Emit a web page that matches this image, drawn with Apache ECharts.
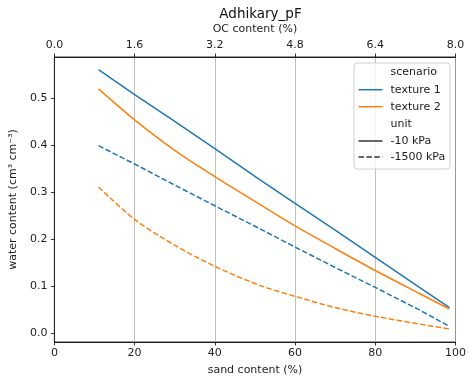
<!DOCTYPE html>
<html>
<head>
<meta charset="utf-8">
<script src="https://cdn.jsdelivr.net/npm/echarts@6/dist/echarts.min.js"></script>
<style>html,body{margin:0;padding:0;background:#fff}#c{width:469px;height:385px}</style>
</head>
<body>
<div id="c"></div>
<script>
const sand = [11, 20, 30, 40, 51, 60, 70, 80, 91, 98.5];
const tex1_10 = [0.561, 0.508, 0.451, 0.393, 0.328, 0.276, 0.219, 0.161, 0.097, 0.054];
const tex2_10 = [0.520, 0.454, 0.389, 0.333, 0.275, 0.228, 0.180, 0.133, 0.084, 0.051];
const tex1_1500 = [0.399, 0.360, 0.315, 0.271, 0.223, 0.183, 0.1395, 0.097, 0.049, 0.014];
const tex2_1500 = [0.311, 0.242, 0.187, 0.142, 0.102, 0.078, 0.054, 0.0355, 0.019, 0.0085];
const yTicks = [0.0, 0.1, 0.2, 0.3, 0.4, 0.5];

const BLUE = '#1f77b4', ORANGE = '#ff7f0e';
const FONT = 'DejaVu Sans';
const FS = 11;
const pair = v => sand.map((s, i) => [s, v[i]]);
const mk = (name, v, color, dashed, smooth) => ({
  name, type: 'line', data: pair(v), showSymbol: false, smooth: smooth ? 0.3 : false,
  xAxisIndex: 0, yAxisIndex: 0,
  lineStyle: { color, width: 1.5, type: dashed ? [5.5, 2.4] : 'solid' },
  itemStyle: { color }, z: 3
});

const chart = echarts.init(document.getElementById('c'), null, { renderer: 'canvas' });
const txt = { fontFamily: FONT, fontSize: FS, color: '#222' };
const lg = { x: 354, y: 63, w: 96, h: 106 };
const rowY = [72.3, 89.7, 106.7, 124, 141, 157];
const graphics = [
  { type: 'rect', shape: { x: lg.x, y: lg.y, width: lg.w, height: lg.h, r: 3 },
    style: { fill: 'rgba(255,255,255,0.8)', stroke: '#d0d0d0', lineWidth: 1 }, z: 10 },
];
const rows = [
  { t: 'scenario' },
  { t: 'texture 1', c: BLUE },
  { t: 'texture 2', c: ORANGE },
  { t: 'unit' },
  { t: '-10 kPa', c: '#333333' },
  { t: '-1500 kPa', c: '#333333', d: true },
];
rows.forEach((r, i) => {
  if (r.c) graphics.push({ type: 'line', shape: { x1: 358.5, y1: rowY[i], x2: 382.5, y2: rowY[i] },
    style: { stroke: r.c, lineWidth: 1.5, lineDash: r.d ? [5.5, 2.4] : null }, z: 11 });
  graphics.push({ type: 'text', x: 390.5, y: rowY[i],
    style: { text: r.t, font: FS + 'px "DejaVu Sans"', fill: '#222', verticalAlign: 'middle', textAlign: 'left' }, z: 11 });
});

chart.setOption({
  animation: false,
  backgroundColor: '#fff',
  title: { text: 'Adhikary_pF', left: 255.5, textAlign: 'center', top: 2,
    textStyle: { fontFamily: FONT, fontSize: 13.5, fontWeight: 'normal', color: '#111' } },
  grid: { left: 54, right: 12, top: 57, bottom: 43, show: true, borderColor: '#000', borderWidth: 0.8, backgroundColor: 'transparent' },
  xAxis: [
    { type: 'value', position: 'bottom', min: 0, max: 100, interval: 20,
      name: 'sand content (%)', nameLocation: 'middle', nameGap: 23, nameTextStyle: txt,
      axisLine: { show: true, onZero: false, lineStyle: { color: '#000', width: 0.8 } },
      axisTick: { show: true, length: 3.5, inside: false, lineStyle: { color: '#000', width: 0.8 } },
      axisLabel: { ...txt, margin: 6 },
      splitLine: { show: true, lineStyle: { color: '#b0b0b0', width: 0.8 } } },
    { type: 'value', position: 'top', min: 0, max: 8, interval: 1.6,
      name: 'OC content (%)', nameLocation: 'middle', nameGap: 20, nameTextStyle: txt,
      axisLine: { show: true, onZero: false, lineStyle: { color: '#000', width: 0.8 } },
      axisTick: { show: true, length: 3.5, inside: false, lineStyle: { color: '#000', width: 0.8 } },
      axisLabel: { ...txt, margin: 6, formatter: v => v.toFixed(1) },
      splitLine: { show: false } }
  ],
  yAxis: [{
    type: 'value', min: -0.0193, max: 0.588,
    name: 'water content (cm³ cm⁻³)', nameLocation: 'middle', nameGap: 33, nameTextStyle: txt,
    axisLine: { show: true, onZero: false, lineStyle: { color: '#000', width: 0.8 } },
    axisTick: { show: true, length: 3.5, inside: false, customValues: yTicks, lineStyle: { color: '#000', width: 0.8 } },
    axisLabel: { ...txt, margin: 7, customValues: yTicks, formatter: v => v.toFixed(1) },
    splitLine: { show: false }
  }],
  series: [
    mk('texture 1 -10 kPa', tex1_10, BLUE, false, false),
    mk('texture 2 -10 kPa', tex2_10, ORANGE, false, true),
    mk('texture 1 -1500 kPa', tex1_1500, BLUE, true, false),
    mk('texture 2 -1500 kPa', tex2_1500, ORANGE, true, true),
  ],
  graphic: graphics
});
</script>
</body>
</html>
